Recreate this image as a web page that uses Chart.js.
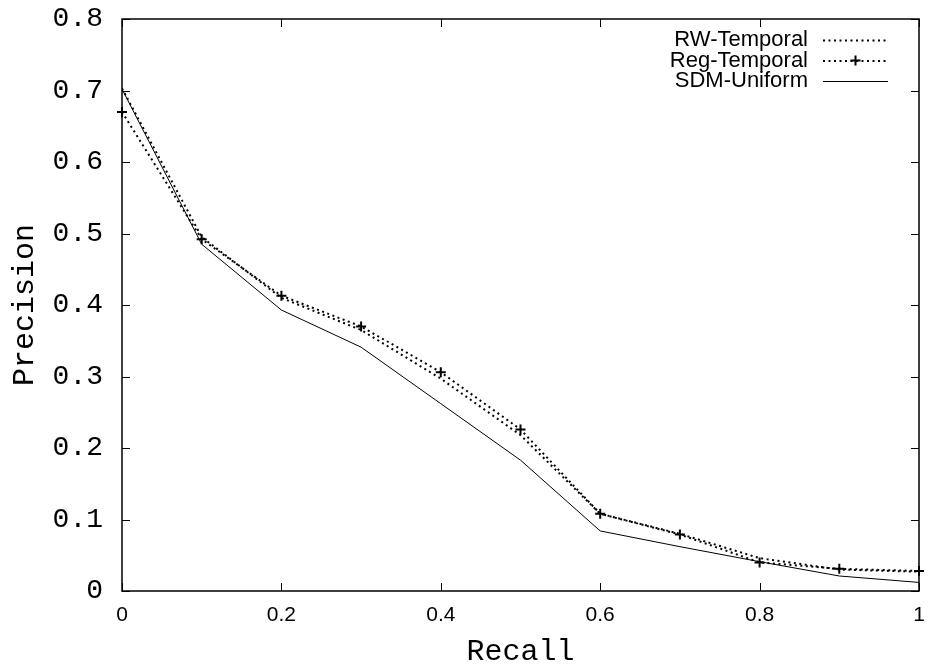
<!DOCTYPE html>
<html>
<head>
<meta charset="utf-8">
<script src="https://cdn.jsdelivr.net/npm/chart.js@4/dist/chart.umd.min.js"></script>
<style>
  html, body { margin: 0; padding: 0; background: #fff; }
  #wrap { width: 929px; height: 671px; }
</style>
</head>
<body>
<div id="wrap"><canvas id="prChart" width="929" height="671"></canvas></div>
<script>
// values
var recall = [0, 0.1, 0.2, 0.3, 0.4, 0.5, 0.6, 0.7, 0.8, 0.9, 1.0];
var rwTemporal  = [0.703, 0.495, 0.410, 0.365, 0.297, 0.218, 0.108, 0.080, 0.046, 0.030, 0.027];
var regTemporal = [0.670, 0.492, 0.413, 0.370, 0.306, 0.226, 0.108, 0.079, 0.040, 0.031, 0.028];
var sdmUniform  = [0.702, 0.485, 0.393, 0.341, 0.262, 0.183, 0.084, 0.062, 0.041, 0.021, 0.012];
var xTicks = [0, 0.2, 0.4, 0.6, 0.8, 1];
var yTicks = [0, 0.1, 0.2, 0.3, 0.4, 0.5, 0.6, 0.7, 0.8];

function pts(ys){
  var out = [];
  for (var i in recall) out.push({x: recall[i], y: ys[i]});
  return out;
}

var monoFont = '"Liberation Mono", "DejaVu Sans Mono", monospace';
var sansFont = '"Liberation Sans", Arial, sans-serif';

// gnuplot style frame with inward tick marks on all four sides
var framePlugin = {
  id: 'frame',
  afterDraw: function(chart){
    var ctx = chart.ctx, a = chart.chartArea;
    var xs = chart.scales.x, ys = chart.scales.y, tl = 8;
    ctx.save();
    ctx.strokeStyle = '#000';
    ctx.lineWidth = 1;
    ctx.beginPath();
    xs.ticks.forEach(function(t){
      var px = Math.round(xs.getPixelForValue(t.value)) + 0.5;
      ctx.moveTo(px, a.bottom); ctx.lineTo(px, a.bottom - tl);
      ctx.moveTo(px, a.top); ctx.lineTo(px, a.top + tl);
    });
    ys.ticks.forEach(function(t){
      var py = Math.round(ys.getPixelForValue(t.value)) + 0.5;
      ctx.moveTo(a.left, py); ctx.lineTo(a.left + tl, py);
      ctx.moveTo(a.right, py); ctx.lineTo(a.right - tl, py);
    });
    ctx.stroke();
    ctx.lineWidth = 1.5;
    ctx.strokeRect(a.left, a.top, a.right - a.left, a.bottom - a.top);
    ctx.restore();
  }
};

// legend drawn gnuplot-like: right aligned label, then line sample
var keyPlugin = {
  id: 'key',
  afterDatasetsDraw: function(chart){
    var ctx = chart.ctx;
    var textRight = 808, x0 = 823, x1 = 888, y0 = 40, dy = 20.5;
    ctx.save();
    ctx.font = '22px ' + sansFont;
    ctx.textAlign = 'right';
    ctx.textBaseline = 'middle';
    ctx.fillStyle = '#000';
    chart.data.datasets.forEach(function(ds, i){
      var y = y0 + i * dy;
      ctx.fillText(ds.label, textRight, y);
      ctx.strokeStyle = ds.borderColor;
      ctx.lineWidth = ds.borderWidth;
      ctx.setLineDash(ds.borderDash || []);
      ctx.beginPath();
      ctx.moveTo(x0, y + 0.5); ctx.lineTo(x1, y + 0.5);
      ctx.stroke();
      ctx.setLineDash([]);
      if (ds.pointRadius > 0) {
        var cx = (x0 + x1) / 2, r = ds.pointRadius;
        ctx.lineWidth = ds.pointBorderWidth;
        ctx.beginPath();
        ctx.moveTo(cx - r, y); ctx.lineTo(cx + r, y);
        ctx.moveTo(cx, y - r); ctx.lineTo(cx, y + r);
        ctx.stroke();
      }
    });
    ctx.restore();
  }
};

var ctx = document.getElementById('prChart');
var chart = new Chart(ctx, {
  type: 'line',
  data: {
    datasets: [
      {
        label: 'RW-Temporal',
        data: pts(rwTemporal),
        borderColor: '#000',
        borderWidth: 2,
        borderDash: [2, 3.5],
        pointRadius: 0,
        fill: false
      },
      {
        label: 'Reg-Temporal',
        data: pts(regTemporal),
        borderColor: '#000',
        borderWidth: 2,
        borderDash: [2, 3.5],
        pointStyle: 'cross',
        pointRadius: 5,
        pointBorderWidth: 2,
        pointBorderColor: '#000',
        clip: false,
        fill: false
      },
      {
        label: 'SDM-Uniform',
        data: pts(sdmUniform),
        borderColor: '#000',
        borderWidth: 1,
        pointRadius: 0,
        fill: false
      }
    ]
  },
  options: {
    responsive: false,
    animation: false,
    layout: { padding: { top: 19, right: 10, left: 0, bottom: 0 } },
    plugins: {
      legend: { display: false },
      tooltip: { enabled: false }
    },
    scales: {
      x: {
        type: 'linear',
        min: 0,
        max: 1,
        afterBuildTicks: function(s){ s.ticks = xTicks.map(function(v){ return {value: v}; }); },
        afterFit: function(s){ s.height = 80; s.paddingLeft = 0; s.paddingRight = 0; },
        grid: { display: false, drawTicks: false },
        border: { display: false },
        ticks: {
          color: '#000',
          padding: 12,
          maxRotation: 0,
          font: { family: sansFont, size: 21 },
          callback: function(v){ return String(v); }
        },
        title: {
          display: true,
          text: 'Recall',
          color: '#000',
          font: { family: monoFont, size: 30, lineHeight: 1 },
          padding: { top: 0, bottom: 4 }
        }
      },
      y: {
        type: 'linear',
        min: 0,
        max: 0.8,
        afterBuildTicks: function(s){ s.ticks = yTicks.map(function(v){ return {value: v}; }); },
        afterFit: function(s){ s.width = 122; s.paddingTop = 0; s.paddingBottom = 0; },
        grid: { display: false, drawTicks: false },
        border: { display: false },
        ticks: {
          color: '#000',
          padding: 19,
          font: { family: monoFont, size: 28 },
          callback: function(v){ return String(v); }
        },
        title: {
          display: true,
          text: 'Precision',
          color: '#000',
          font: { family: monoFont, size: 30, lineHeight: 1 },
          padding: { top: 10, bottom: 0 }
        }
      }
    }
  },
  plugins: [framePlugin, keyPlugin]
});
</script>
</body>
</html>
